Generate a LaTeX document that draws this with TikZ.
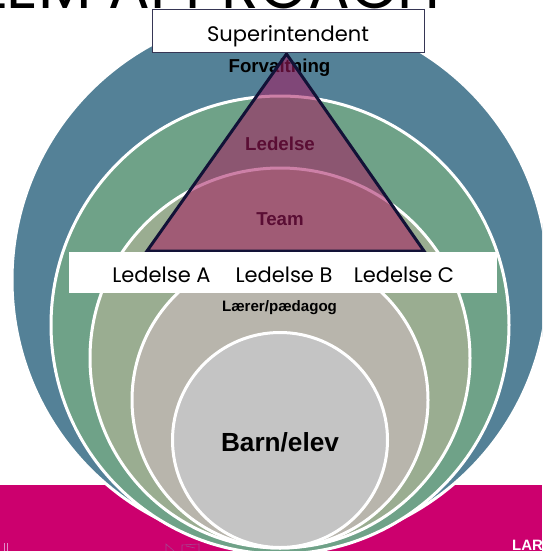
\documentclass[tikz,border=0pt]{standalone}
\usepackage{fontspec}
\setmainfont{Liberation Sans}
\newfontfamily\geofont{Poppins}

\definecolor{ringblaa}{RGB}{84,129,151}
\definecolor{ringgroen}{RGB}{111,162,136}
\definecolor{ringsalvie}{RGB}{154,173,145}
\definecolor{ringbrun}{RGB}{184,181,172}
\definecolor{ringgraa}{RGB}{196,196,196}
\definecolor{bundmagenta}{RGB}{204,0,110}
\definecolor{trekantfarve}{RGB}{165,25,95}
\definecolor{marine}{RGB}{18,18,55}
\definecolor{logolys}{RGB}{225,140,200}
\definecolor{logomoerk}{RGB}{165,70,145}

\begin{document}
\begin{tikzpicture}[x=1pt,y=-1pt,
  ring/.style={draw=white,line width=3pt},
  etiket/.style={font=\bfseries\fontsize{18.7}{20}\selectfont,anchor=base,inner sep=0pt},
  geotekst/.style={font=\geofont\fontsize{21}{24}\selectfont,anchor=base,inner sep=0pt},
  boks/.style={fill=white,inner sep=0pt}]

\useasboundingbox (0,0) rectangle (542,551);

% Titel (kun bunden ses)
\node[font=\geofont\fontsize{62}{62}\selectfont,anchor=base east,inner sep=0pt] (titel) at (441,8.5) {PROBLEM APPROACH};

% Magenta bund
\fill[bundmagenta] (0,485) rectangle (542,551);
\draw[logolys,line width=0.6pt] (4.5,543) -- (4.5,551) (7.5,543) -- (7.5,551);
\draw[logomoerk,line width=0.6pt]
  (166,551) -- (166,544) -- (174,551)
  (182,551) -- (182,545) -- (199,544) -- (199,551)
  (186,546) -- (195,548);

% Ringene
\begin{scope}
\clip (0,0) rectangle (542,551);
\filldraw[ring,fill=ringblaa] (280,280) circle [radius=268];
\filldraw[ring,fill=ringgroen] (280,325) circle [radius=229];
\filldraw[ring,fill=ringsalvie] (280,358) circle [radius=190];
\filldraw[ring,fill=ringbrun] (280,400) circle [radius=148];
\filldraw[ring,fill=ringgraa] (280,440) circle [radius=107.5];
\end{scope}

% Etiketter
\node[etiket] (forvaltning) at (279.5,72.7) {Forvaltning};
\node[etiket] (ledelse) at (280,150) {Ledelse};
\node[etiket] (team) at (280,225.5) {Team};
\node[etiket,font=\bfseries\fontsize{15.1}{17}\selectfont] (laerer) at (279.5,311.5) {Lærer/pædagog};
\node[etiket,font=\bfseries\fontsize{26.2}{28}\selectfont] (barn) at (280,451) {Barn/elev};

% Trekanten
\filldraw[fill=trekantfarve,fill opacity=0.55,draw=marine,line width=3pt]
  (286.5,54) -- (424,251) -- (147,251) -- cycle;

% Ledelse A, B og C
\node[boks,minimum width=428pt,minimum height=41pt] (ledelsesboks) at (283,272.5) {};
\node[geotekst] (ledelseA) at (161.5,282) {Ledelse A};
\node[geotekst] (ledelseB) at (284,282) {Ledelse B};
\node[geotekst] (ledelseC) at (404,282) {Ledelse C};

% Superintendent
\node[boks,draw=marine!85,line width=1pt,minimum width=272pt,minimum height=43pt] (superboks) at (288,31.5) {};
\node[geotekst] (superintendent) at (288,41.5) {Superintendent};

% LARS
\node[font=\bfseries\fontsize{15}{15}\selectfont,text=white,anchor=north west,inner sep=0pt] (lars) at (512,540) {LARS};

\end{tikzpicture}
\end{document}
